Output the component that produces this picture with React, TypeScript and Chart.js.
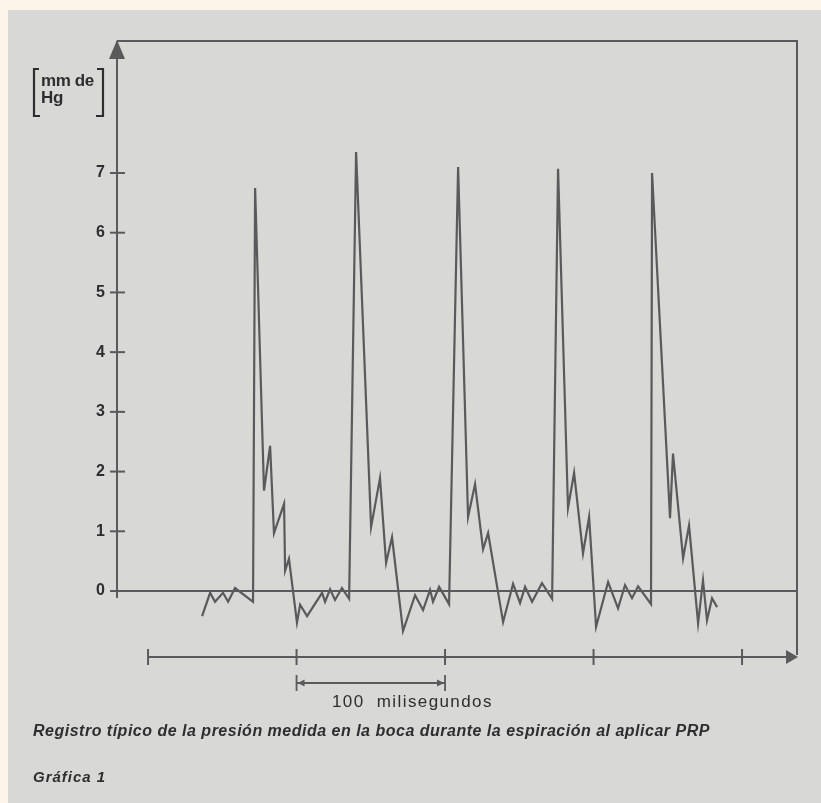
import React, { useEffect, useRef } from "react";
import { Chart, registerables } from "chart.js";

Chart.register(...registerables);

// time in milliseconds (x axis), pressure in mm Hg (y axis)
const timeMs = [
  36.4, 41.8, 45.1, 50.5, 53.9, 58.6, 70.7, 72.1, 78.1, 82.2, 84.8, 91.6, 92.3, 94.9, 100.3, 102.4, 107.1,
  117.2, 119.2, 122.6, 125.9, 130.6, 135.4, 140.1, 150.2, 156.2, 160.3, 164.3, 171.7, 179.8, 185.2, 189.9,
  191.9, 196.0, 202.7, 208.8, 215.5, 220.2, 225.6, 229.0, 239.1, 245.8, 250.5, 253.9, 258.6, 265.3, 272.1,
  276.1, 282.8, 286.9, 292.9, 297.0, 301.7, 309.8, 316.5, 321.2, 325.9, 330.0, 338.7, 339.4, 351.5, 353.5,
  360.3, 364.3, 370.4, 373.7, 376.4, 379.8, 383.2,
];
const pressureMmHg = [
  -0.42, -0.03, -0.18, -0.03, -0.18, 0.05, -0.18, 6.75, 1.68, 2.43, 0.97, 1.46, 0.34, 0.54, -0.53, -0.23, -0.42,
  -0.03, -0.18, 0.03, -0.15, 0.05, -0.13, 7.35, 1.07, 1.89, 0.47, 0.9, -0.67, -0.07, -0.32, 0.02,
  -0.18, 0.07, -0.22, 7.1, 1.24, 1.79, 0.7, 0.97, -0.52, 0.12, -0.2, 0.07, -0.18, 0.13, -0.13,
  7.07, 1.39, 1.98, 0.63, 1.24, -0.6, 0.15, -0.29, 0.1, -0.12, 0.08, -0.22, 7.0, 1.22, 2.3,
  0.55, 1.1, -0.54, 0.18, -0.49, -0.12, -0.27,
];
const yTickValues = [0, 1, 2, 3, 4, 5, 6, 7];
const xTickValues = [0, 100, 200, 300, 400];
const scaleBarMs = [100, 200];
const yUnitLabel = ["mm de", "Hg"];
const scaleBarLabel = "100  milisegundos";
const caption = "Registro típico de la presión medida en la boca durante la espiración al aplicar PRP";
const figureLabel = "Gráfica 1";

const LINE = "#5a5a5a";
const INK = "#2e2e2e";

const decorations = {
  id: "decorations",
  beforeDatasetsDraw(chart: any) {
    const { ctx, chartArea: a, scales } = chart;
    const xs = scales.x;
    const ys = scales.y;
    ctx.save();
    ctx.strokeStyle = LINE;
    ctx.fillStyle = LINE;
    ctx.lineWidth = 2;
    ctx.lineCap = "butt";
    const y0 = ys.getPixelForValue(0);
    // top + right frame
    ctx.beginPath();
    ctx.moveTo(a.left, a.top);
    ctx.lineTo(a.right, a.top);
    ctx.lineTo(a.right, a.bottom - 2);
    ctx.stroke();
    // zero line
    ctx.beginPath();
    ctx.moveTo(a.left, y0);
    ctx.lineTo(a.right, y0);
    ctx.stroke();
    // y axis line
    ctx.beginPath();
    ctx.moveTo(a.left, a.top);
    ctx.lineTo(a.left, y0 + 7);
    ctx.stroke();
    // y arrow
    ctx.beginPath();
    ctx.moveTo(a.left, a.top - 1);
    ctx.lineTo(a.left - 8, a.top + 18);
    ctx.lineTo(a.left + 8, a.top + 18);
    ctx.closePath();
    ctx.fill();
    // y ticks crossing axis
    ys.ticks.forEach((t: any) => {
      const p = ys.getPixelForValue(t.value);
      ctx.beginPath();
      ctx.moveTo(a.left - 7, p);
      ctx.lineTo(a.left + 8, p);
      ctx.stroke();
    });
    // x axis line with ticks and arrow
    const xb = a.bottom;
    const xStart = xs.getPixelForValue(xTickValues[0]);
    ctx.beginPath();
    ctx.moveTo(xStart, xb);
    ctx.lineTo(a.right - 8, xb);
    ctx.stroke();
    xTickValues.forEach((v) => {
      const p = xs.getPixelForValue(v);
      ctx.beginPath();
      ctx.moveTo(p, xb - 8);
      ctx.lineTo(p, xb + 8);
      ctx.stroke();
    });
    ctx.beginPath();
    ctx.moveTo(a.right + 1, xb);
    ctx.lineTo(a.right - 11, xb - 7);
    ctx.lineTo(a.right - 11, xb + 7);
    ctx.closePath();
    ctx.fill();
    // scale bar (100 ms)
    const b1 = xs.getPixelForValue(scaleBarMs[0]);
    const b2 = xs.getPixelForValue(scaleBarMs[1]);
    const by = xb + 26;
    ctx.lineWidth = 1.8;
    ctx.beginPath();
    ctx.moveTo(b1, by);
    ctx.lineTo(b2, by);
    ctx.moveTo(b1, by - 8);
    ctx.lineTo(b1, by + 8);
    ctx.moveTo(b2, by - 8);
    ctx.lineTo(b2, by + 8);
    ctx.stroke();
    ctx.beginPath();
    ctx.moveTo(b1 + 1, by);
    ctx.lineTo(b1 + 8, by - 3.5);
    ctx.lineTo(b1 + 8, by + 3.5);
    ctx.closePath();
    ctx.moveTo(b2 - 1, by);
    ctx.lineTo(b2 - 8, by - 3.5);
    ctx.lineTo(b2 - 8, by + 3.5);
    ctx.closePath();
    ctx.fill();
    // unit brackets
    ctx.strokeStyle = INK;
    ctx.lineWidth = 2.2;
    ctx.beginPath();
    ctx.moveTo(39, 69);
    ctx.lineTo(34, 69);
    ctx.lineTo(34, 116);
    ctx.lineTo(40, 116);
    ctx.moveTo(97, 69);
    ctx.lineTo(103, 69);
    ctx.lineTo(103, 116);
    ctx.lineTo(96, 116);
    ctx.stroke();
    ctx.restore();
  },
};

export default function App() {
  const ref = useRef<HTMLCanvasElement | null>(null);
  useEffect(() => {
    if (!ref.current) return;
    const chart = new Chart(ref.current, {
      type: "line",
      data: {
        datasets: [
          {
            label: "Presión en boca",
            data: timeMs.map((t, i) => ({ x: t, y: pressureMmHg[i] })),
            borderColor: LINE,
            borderWidth: 2.2,
            pointRadius: 0,
            tension: 0,
            fill: false,
          },
        ],
      },
      options: {
        animation: false,
        responsive: false,
        devicePixelRatio: 1,
        layout: { padding: { top: 41, right: 24, bottom: 146, left: 0 } },
        plugins: { legend: { display: false }, tooltip: { enabled: false }, title: { display: false } },
        scales: {
          x: {
            type: "linear",
            min: -20.9,
            max: 437,
            display: false,
          },
          y: {
            type: "linear",
            min: -1.105,
            max: 9.21,
            afterBuildTicks: (s: any) => {
              s.ticks = yTickValues.map((v) => ({ value: v }));
            },
            afterFit: (s: any) => {
              s.width = 117;
            },
            grid: { display: false, drawTicks: false },
            border: { display: false },
            ticks: {
              padding: 12,
              color: INK,
              font: { family: "'Liberation Sans', Arial, sans-serif", size: 16, weight: "bold" },
            },
          },
        },
      },
      plugins: [decorations],
    });
    return () => chart.destroy();
  }, []);

  const font = "'Liberation Sans', Arial, sans-serif";
  return (
    <div style={{ position: "absolute", left: 0, top: 0, width: 821, height: 803, background: "#fdf5e8", overflow: "hidden" }}>
      <div style={{ position: "absolute", left: 8, top: 10, right: 0, bottom: 0, background: "#d8d8d6" }} />
      <canvas ref={ref} width={821} height={803} style={{ position: "absolute", left: 0, top: 0, width: 821, height: 803 }} />
      <div style={{ position: "absolute", left: 41, top: 72, fontFamily: font, fontWeight: "bold", fontSize: 17, lineHeight: "17px", color: INK, letterSpacing: "-0.4px" }}>
        {yUnitLabel[0]}
        <br />
        {yUnitLabel[1]}
      </div>
      <div style={{ position: "absolute", left: 332, top: 692, fontFamily: font, fontSize: 17, letterSpacing: "1.4px", color: INK, whiteSpace: "pre" }}>
        {scaleBarLabel}
      </div>
      <div style={{ position: "absolute", left: 33, top: 722, fontFamily: font, fontSize: 16, letterSpacing: "0.5px", fontStyle: "italic", fontWeight: "bold", color: INK, whiteSpace: "nowrap" }}>
        {caption}
      </div>
      <div style={{ position: "absolute", left: 33, top: 768, fontFamily: font, fontSize: 15, letterSpacing: "1px", fontStyle: "italic", fontWeight: "bold", color: INK, whiteSpace: "nowrap" }}>
        {figureLabel}
      </div>
    </div>
  );
}
